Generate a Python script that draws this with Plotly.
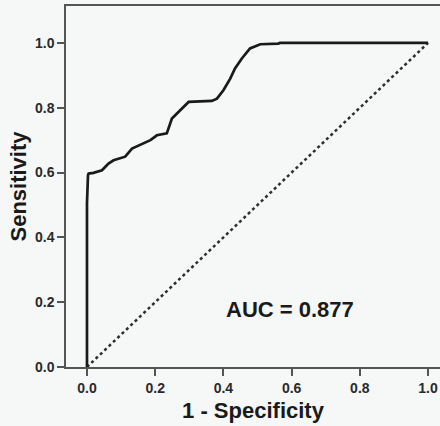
import plotly.graph_objects as go

# ROC curve points (1 - specificity, sensitivity)
fpr = [0.0, 0.0, 0.003, 0.005, 0.019, 0.044, 0.054, 0.063, 0.078, 0.098, 0.112,
       0.132, 0.156, 0.186, 0.205, 0.234, 0.249, 0.268, 0.298, 0.366, 0.381,
       0.400, 0.420, 0.434, 0.454, 0.478, 0.508, 0.561, 0.566, 1.0]
tpr = [0.0, 0.505, 0.592, 0.597, 0.599, 0.607, 0.618, 0.628, 0.638, 0.644, 0.649,
       0.674, 0.685, 0.700, 0.715, 0.721, 0.767, 0.787, 0.818, 0.821, 0.828,
       0.854, 0.890, 0.921, 0.952, 0.983, 0.996, 0.998, 1.0, 1.0]
ref_x = [0.0, 1.0]
ref_y = [0.0, 1.0]
tick_vals = [0.0, 0.2, 0.4, 0.6, 0.8, 1.0]
tick_text = ["0.0", "0.2", "0.4", "0.6", "0.8", "1.0"]
auc_label = "AUC = 0.877"

BG = "#f6f7f7"
FONT = "Liberation Sans, Arial, sans-serif"

fig = go.Figure()
fig.add_trace(go.Scatter(x=ref_x, y=ref_y, mode="lines",
                         line=dict(color="#2e2e2e", width=2.5, dash="dot"),
                         hoverinfo="skip", showlegend=False))
fig.add_trace(go.Scatter(x=fpr, y=tpr, mode="lines",
                         line=dict(color="#1a1a1a", width=2.7),
                         showlegend=False))

fig.add_annotation(x=0.594, y=0.176, xref="x", yref="y", text="<b>" + auc_label + "</b>",
                   showarrow=False, font=dict(family=FONT, size=22, color="#1a1a1a"))

axis_common = dict(
    showgrid=False, zeroline=False, showline=True, linecolor="#555555", linewidth=1.5,
    ticks="outside", ticklen=7, tickwidth=1.5, tickcolor="#555555",
    tickvals=tick_vals, ticktext=tick_text,
    tickfont=dict(family=FONT, size=14, color="#2a2a2a", weight="bold"),
)

fig.update_layout(
    width=440, height=426,
    margin=dict(l=66, r=0, t=6, b=59),
    paper_bgcolor=BG, plot_bgcolor=BG,
    xaxis=dict(range=[-0.0615, 1.035], mirror=True,
               title=dict(text="<b>1 - Specificity</b>", standoff=8,
                          font=dict(family=FONT, size=22, color="#1a1a1a")),
               **axis_common),
    yaxis=dict(range=[0, 1.114],
               title=dict(text="<b>Sensitivity</b>", standoff=2,
                          font=dict(family=FONT, size=22, color="#1a1a1a")),
               **axis_common),
)

fig.write_html("out.html", config={"displayModeBar": False},
               post_script="document.body.style.margin='0';document.body.style.background='" + BG + "';")
